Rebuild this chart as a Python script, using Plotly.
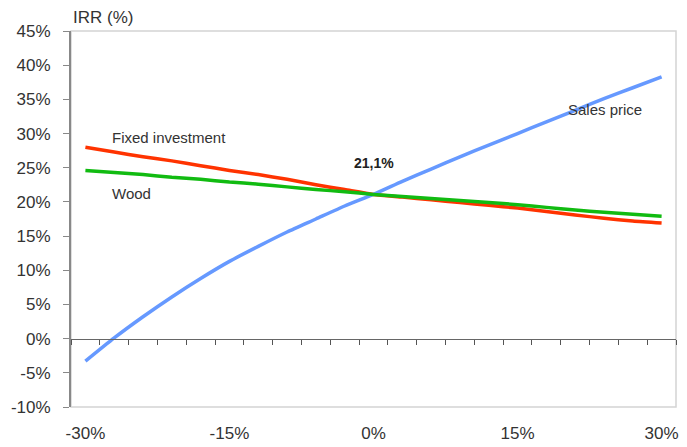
import plotly.graph_objects as go

# Sensitivity (% change of the variable) -- 21 categories, step 3%
changes = [-30, -27, -24, -21, -18, -15, -12, -9, -6, -3, 0,
           3, 6, 9, 12, 15, 18, 21, 24, 27, 30]

sales_price = [-3.3, 0.1, 3.2, 6.1, 8.8, 11.3, 13.5, 15.6, 17.5, 19.4, 21.1,
               23.0, 24.8, 26.6, 28.3, 30.0, 31.7, 33.4, 35.1, 36.7, 38.3]
fixed_investment = [28.0, 27.3, 26.6, 26.0, 25.3, 24.6, 24.0, 23.3, 22.5, 21.8, 21.1,
                    20.7, 20.3, 19.9, 19.5, 19.1, 18.6, 18.1, 17.6, 17.2, 16.9]
wood = [24.6, 24.3, 24.0, 23.6, 23.3, 22.9, 22.6, 22.2, 21.8, 21.5, 21.1,
        20.8, 20.5, 20.2, 19.9, 19.6, 19.2, 18.8, 18.5, 18.2, 17.9]

x_tick_vals = [-30, -15, 0, 15, 30]
x_tick_text = ["-30%", "-15%", "0%", "15%", "30%"]
y_tick_vals = [-10, -5, 0, 5, 10, 15, 20, 25, 30, 35, 40, 45]
y_tick_text = ["-10%", "-5%", "0%", "5%", "10%", "15%", "20%", "25%",
               "30%", "35%", "40%", "45%"]
boundary_ticks = [-31.5 + 3 * k for k in range(22)]

FONT = "Liberation Sans, Arial, sans-serif"
TXT = "#333333"

fig = go.Figure()
fig.add_trace(go.Scatter(x=changes, y=sales_price, mode="lines", name="Sales price",
                         xaxis="x2",
                         line=dict(color="#6699FF", width=3.5, shape="spline", smoothing=0.6)))
fig.add_trace(go.Scatter(x=changes, y=wood, mode="lines", name="Wood",
                         xaxis="x2",
                         line=dict(color="#11BB11", width=3.5, shape="spline", smoothing=0.6)))
fig.add_trace(go.Scatter(x=changes, y=fixed_investment, mode="lines", name="Fixed investment",
                         line=dict(color="#FF3300", width=3.5, shape="spline", smoothing=0.6)))

fig.update_layout(
    width=687, height=447,
    margin=dict(l=71, r=11, t=31, b=40, autoexpand=False),
    paper_bgcolor="white", plot_bgcolor="white",
    showlegend=False,
    font=dict(family=FONT, color=TXT),
    xaxis=dict(range=[-31.5, 31.5], tickvals=x_tick_vals, ticktext=x_tick_text,
               ticks="", showgrid=False, zeroline=False, showline=False, automargin=False,
               tickfont=dict(size=17, color=TXT), ticklabelstandoff=14),
    xaxis2=dict(range=[-31.5, 31.5], overlaying="x", anchor="free", position=10 / 55,
                side="bottom", tickvals=boundary_ticks, ticks="outside", ticklen=5,
                tickcolor="#555555", showticklabels=False, showgrid=False,
                zeroline=False, showline=True, linecolor="#666666", linewidth=1),
    yaxis=dict(range=[-10, 45], tickvals=y_tick_vals, ticktext=y_tick_text,
               ticks="outside", ticklen=6, tickcolor="#888888", automargin=False,
               showline=True, linecolor="#888888", linewidth=2,
               showgrid=False, zeroline=False,
               tickfont=dict(size=17, color=TXT), ticklabelstandoff=9),
    shapes=[dict(type="rect", xref="paper", yref="paper", x0=0, x1=1, y0=0, y1=1,
                 line=dict(color="#D4D4D4", width=1.5), layer="below")],
)

ann_font = dict(family=FONT, size=15, color=TXT)
fig.add_annotation(x=-27.4, y=29.4, text="Fixed investment", showarrow=False,
                   xanchor="left", yanchor="middle", font=ann_font)
fig.add_annotation(x=-27.4, y=21.2, text="Wood", showarrow=False,
                   xanchor="left", yanchor="middle", font=ann_font)
fig.add_annotation(x=20.0, y=33.5, text="Sales price", showarrow=False,
                   xanchor="left", yanchor="middle", font=ann_font)
fig.add_annotation(x=0, y=25.7, text="<b>21,1%</b>", showarrow=False,
                   xanchor="center", yanchor="middle",
                   font=dict(family=FONT, size=14, color="#222222"))
fig.add_annotation(xref="paper", yref="paper", x=0.0, y=1.037, text="IRR (%)",
                   showarrow=False, xanchor="left", yanchor="middle",
                   font=dict(family=FONT, size=17, color=TXT))

fig.write_html("out.html")
